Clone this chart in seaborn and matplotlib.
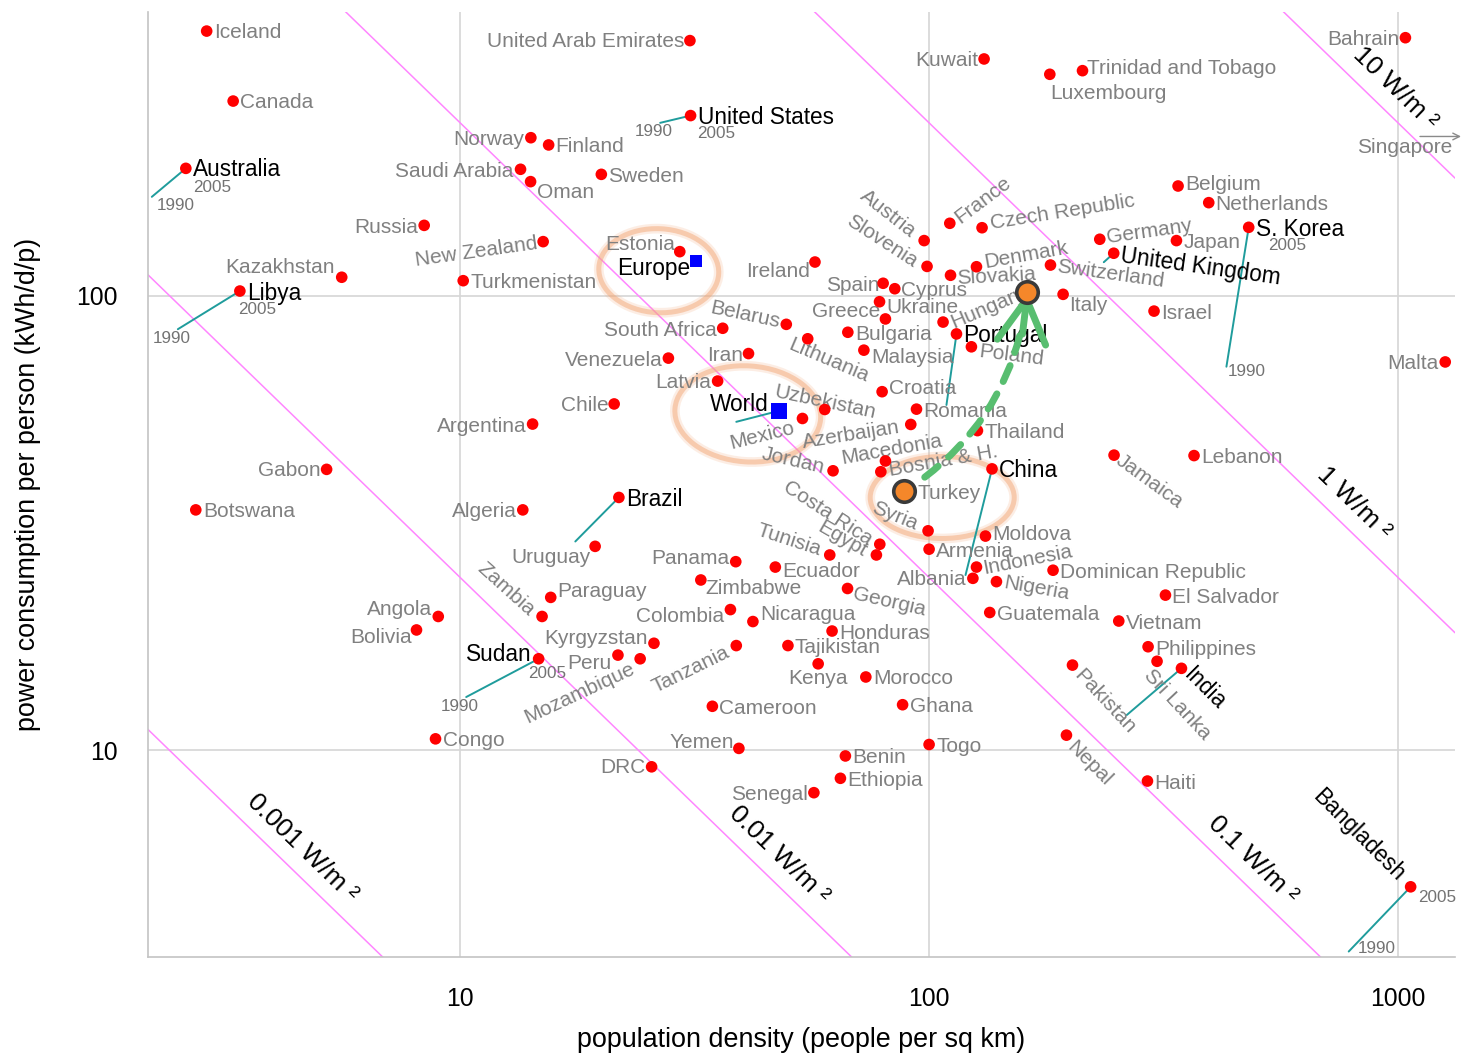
import numpy as np
import pandas as pd
import matplotlib
matplotlib.use("Agg")
import matplotlib.pyplot as plt
import matplotlib.transforms as mtransforms
from matplotlib.patches import Ellipse, FancyArrowPatch
from matplotlib.ticker import FixedLocator, FixedFormatter, LogLocator, NullFormatter
import seaborn as sns

# ---------------------------------------------------------------- data
countries = [
    "Iceland", "Canada", "Australia", "Russia", "Kazakhstan", "Libya", "Turkmenistan",
    "United Arab Emirates", "United States", "Norway", "Finland", "Saudi Arabia", "Oman",
    "Sweden", "New Zealand", "Estonia", "Ireland", "Austria", "Slovenia", "France",
    "Spain", "Cyprus", "Ukraine", "Greece", "Hungary", "Belarus", "South Africa",
    "Bulgaria", "Lithuania", "Portugal", "Malaysia", "Iran", "Venezuela", "Slovakia",
    "Denmark", "Poland", "Kuwait", "Luxembourg", "Trinidad and Tobago", "Bahrain",
    "Belgium", "Netherlands", "S. Korea", "Czech Republic", "Germany", "Japan",
    "United Kingdom", "Switzerland", "Italy", "Israel", "Malta", "Gabon", "Botswana",
    "Angola", "Bolivia", "Latvia", "Chile", "Argentina", "Mexico", "Uzbekistan",
    "Croatia", "Romania", "Azerbaijan", "Macedonia", "Bosnia & H.", "Jordan", "Turkey",
    "Algeria", "Brazil", "Uruguay", "Syria", "Costa Rica", "Egypt", "Tunisia",
    "Armenia", "Panama", "Ecuador", "Zimbabwe", "Albania", "Georgia", "Paraguay",
    "Zambia", "Colombia", "Nicaragua", "Honduras", "Kyrgyzstan", "Tanzania",
    "Tajikistan", "Sudan", "Peru", "Mozambique", "Kenya", "Morocco", "Thailand",
    "China", "Moldova", "Jamaica", "Lebanon", "Indonesia", "Nigeria",
    "Dominican Republic", "El Salvador", "Guatemala", "Vietnam", "Philippines",
    "Sri Lanka", "India", "Pakistan", "Cameroon", "Ghana", "Yemen", "Togo", "Benin",
    "Ethiopia", "DRC", "Senegal", "Congo", "Nepal", "Haiti", "Bangladesh",
]
density_2005 = [
    2.88, 3.28, 2.60, 8.38, 5.59, 3.39, 10.15,
    30.9, 31.0, 14.15, 15.44, 13.45, 14.13,
    20.0, 15.03, 29.4, 57.1, 97.6, 99.0, 110.7,
    79.8, 84.5, 78.4, 80.7, 107.1, 49.6, 36.3,
    67.1, 55.1, 114.4, 72.6, 41.2, 27.8, 111.1,
    126.2, 123.1, 131.0, 180.9, 212.4, 1037,
    339.6, 394.8, 480.4, 129.7, 231.2, 336.9,
    247.6, 181.5, 193.1, 301.8, 1261, 5.19, 2.73,
    8.98, 8.07, 35.4, 21.3, 14.27, 53.7, 59.9,
    79.4, 94.0, 91.4, 80.7, 78.9, 62.4, 88.5,
    13.6, 21.8, 19.4, 99.5, 78.5, 77.2, 61.4,
    100.0, 38.7, 47.0, 32.6, 124.0, 67.0, 15.6,
    14.95, 37.7, 42.1, 62.1, 25.9, 38.8,
    50.0, 14.7, 21.7, 24.2, 58.0, 73.3, 126.8,
    136.2, 131.9, 248.0, 367.3, 126.2, 139.2,
    183.8, 319.2, 134.7, 253.8, 293.1,
    306.3, 345.3, 202.2, 34.5, 87.8, 39.3, 100.0, 66.3,
    64.7, 25.6, 56.8, 8.86, 196.3, 292.2, 1064,
]
power_2005 = [
    382, 268, 190.6, 142.8, 109.8, 102.4, 107.9,
    364, 249, 222.6, 214.6, 189.7, 178.2,
    184.9, 131.5, 125, 118.6, 132.2, 116, 144.3,
    106.5, 103.6, 97.0, 88.9, 87.5, 86.5, 84.8,
    83.1, 80.4, 82.4, 75.9, 74.6, 72.9, 110.9,
    115.8, 77.2, 331.7, 306.9, 312.6, 369.4,
    174.3, 160.2, 141.4, 141.1, 133.1, 132.2,
    124.0, 116.8, 100.7, 92.5, 71.5, 41.5, 33.8,
    19.7, 18.4, 64.9, 57.8, 52.2, 53.7, 56.2,
    61.5, 56.3, 52.1, 43.3, 41.0, 41.2, 37.1,
    33.8, 36.0, 28.1, 30.4, 28.4, 26.9, 26.9,
    27.7, 26.0, 25.3, 23.7, 23.9, 22.7, 21.7,
    19.7, 20.4, 19.2, 18.3, 17.2, 17.0,
    17.0, 15.9, 16.2, 15.9, 15.5, 14.5, 50.5,
    41.6, 29.6, 44.6, 44.5, 25.3, 23.5,
    24.9, 21.95, 20.1, 19.25, 16.9,
    15.7, 15.15, 15.4, 12.5, 12.6, 10.1, 10.3, 9.72,
    8.68, 9.20, 8.07, 10.6, 10.8, 8.56, 5.01,
]

# 1990 -> 2005 trajectories
traj_countries = ["Australia", "Libya", "United States", "S. Korea", "Sudan", "Bangladesh",
                  "Brazil", "United Kingdom", "Portugal", "China", "India", "World"]
density_1990 = [2.20, 2.50, 26.7, 430.6, 10.3, 785, 17.6, 235.8, 108.9, 119.6, 264, 38.8]
power_1990 = [165, 84.4, 240, 69.8, 13.1, 3.61, 28.8, 118.5, 57.5, 24.3, 11.96, 52.8]

region_names = ["Europe", "World"]
region_density = [31.8, 47.8]
region_power = [119.4, 55.8]

highlight_density = [88.5, 162.1]
highlight_power = [37.1, 101.7]

singapore_power = 224

wm2_levels = [0.001, 0.01, 0.1, 1, 10]
wm2_text = ["0.001 W/m \u00b2", "0.01 W/m \u00b2", "0.1 W/m \u00b2", "1 W/m \u00b2", "10 W/m \u00b2"]
wm2_label_x = [4.27, 44.2, 453, 746, 914]

x_ticks = [10, 100, 1000]
x_ticklabels = ["10", "100", "1000"]
y_ticks = [10, 100]
y_ticklabels = ["10", "100"]

# ---------------------------------------------------------------- layout (pixel offsets)
LAYOUT = {
    "Iceland": (7, 1, "left", 0), "Canada": (7, 1, "left", 0), "Australia": (7, 1, "left", 0),
    "Russia": (-6, 2, "right", 0), "Kazakhstan": (-7, -10, "right", 0),
    "United Arab Emirates": (-6, 1, "right", 0), "Norway": (-7, 2, "right", 0),
    "Saudi Arabia": (-7, 2, "right", 0), "Oman": (6, 11, "left", 0),
    "New Zealand": (-6, 2, "right", 8), "Estonia": (-5, -7, "right", 0),
    "Ireland": (-5, 9, "right", 0), "Austria": (-11, -7, "right", -38),
    "Slovenia": (-12, -3, "right", -33), "France": (7, -4, "left", 37),
    "Czech Republic": (8, -4, "left", 9), "Denmark": (8, -4, "left", 10),
    "Slovakia": (6, 3, "left", 3), "Switzerland": (6, 2, "left", -8),
    "Italy": (6, 11, "left", 0), "Spain": (-4, 2, "right", 0), "Cyprus": (6, 2, "left", 0),
    "Ukraine": (7, 6, "left", 0), "Greece": (-5, -7, "right", 0),
    "Hungary": (8, 1, "left", 23), "Poland": (8, 5, "left", -7),
    "Malaysia": (7, 7, "left", 0), "Belarus": (-7, -2, "right", -12),
    "South Africa": (-6, 2, "right", 0), "Lithuania": (-18, 5, "left", -23),
    "Iran": (-5, 2, "right", 0), "Venezuela": (-6, 2, "right", 0),
    "Latvia": (-6, 1, "right", 0), "Croatia": (7, -3, "left", 0),
    "Chile": (-6, 2, "right", 0), "Argentina": (-6, 2, "right", 0),
    "Mexico": (-8, 9, "right", 14), "Uzbekistan": (-50, -18, "left", -12),
    "Azerbaijan": (-11, 3, "right", 9), "Macedonia": (-44, -2, "left", 10),
    "Bosnia & H.": (8, -1, "left", 10), "Jordan": (-9, -3, "right", -13),
    "Turkey": (13, 2, "left", 0), "Syria": (-11, -6, "right", -22),
    "Costa Rica": (-9, -3, "right", -33), "Egypt": (-11, -2, "right", -30),
    "Tunisia": (-9, -5, "right", -18), "Albania": (-6, 1, "right", 0),
    "Moldova": (7, -2, "left", 0), "Indonesia": (7, 2, "left", 11),
    "Nigeria": (7, 1, "left", -10), "Sri Lanka": (-10, 11, "left", -47),
    "India": (6, 3, "left", -45), "Pakistan": (5, 7, "left", -47),
    "Nepal": (4, 9, "left", -45), "Jamaica": (4, 3, "left", -36),
    "Belgium": (7, -2, "left", 0), "Germany": (7, -2, "left", 8),
    "United Kingdom": (7, 2, "left", -8), "Kuwait": (-6, 2, "right", 0),
    "Luxembourg": (0, 19, "left", 0), "Trinidad and Tobago": (5, -2, "left", 0),
    "Bahrain": (-6, 2, "right", 0), "Malta": (-7, 2, "right", 0),
    "Gabon": (-6, 1, "right", 0), "Angola": (-6, -7, "right", 0),
    "Bolivia": (-5, 8, "right", 0), "Algeria": (-6, 2, "right", 0),
    "Uruguay": (-5, 11, "right", 0), "Paraguay": (7, -6, "left", 0),
    "Zambia": (-10, -4, "right", -42), "Mozambique": (-6, 9, "right", 25),
    "Tanzania": (-8, 6, "right", 26), "Kyrgyzstan": (-6, -5, "right", 0),
    "Peru": (-6, 8, "right", 0), "Sudan": (-7, -4, "right", 0),
    "Panama": (-6, -3, "right", 0), "Ecuador": (7, 4, "left", 0),
    "Zimbabwe": (5, 9, "left", 0), "Georgia": (6, 5, "left", -13),
    "Colombia": (-6, 7, "right", 0), "Nicaragua": (7, -7, "left", 0),
    "Kenya": (0, 15, "center", 0), "Yemen": (-5, -6, "right", 0),
    "DRC": (-6, 1, "right", 0), "Senegal": (-6, 2, "right", 0),
    "Bangladesh": (-10, -9, "right", -45), "Philippines": (7, 3, "left", 0),
    "Europe": (-6, 8, "right", 0), "World": (-10, -6, "right", 0),
}
BLACK = {"Australia", "Libya", "United States", "Brazil", "Sudan", "China", "India",
         "S. Korea", "United Kingdom", "Portugal", "Bangladesh", "Europe", "World"}
YEAR_LAYOUT = {  # (offset of "2005" from 2005 point), (offset of "1990" from 1990 point)
    "Australia": ((7, 19), (5, 9)), "Libya": ((-2, 18), (-25, 9)),
    "United States": ((7, 18), (-25, 9)), "S. Korea": ((19, 18), (1, 5)),
    "Sudan": ((-11, 15), (-25, 9)), "Bangladesh": ((7, 11), (9, -3)),
}

# ---------------------------------------------------------------- style
sns.set_theme(style="white")
plt.rcParams["font.family"] = ["Liberation Sans", "DejaVu Sans"]

DPI = 100
PX = 72.0 / DPI
GRAY_TXT = "#808080"
TEAL = "#1f9c9c"
GREEN = "#58be70"
PEACH = "#f3a878"

fig = plt.figure(figsize=(14.61, 10.56), dpi=DPI)
ax = fig.add_axes([0.1011, 0.0940, 0.8948, 0.8943])
ax.set_xscale("log")
ax.set_yscale("log")
XLIM = (2.156, 1323)
YLIM = (3.516, 420)
ax.set_xlim(*XLIM)
ax.set_ylim(*YLIM)

for side in ["top", "right"]:
    ax.spines[side].set_visible(False)
for side in ["left", "bottom"]:
    ax.spines[side].set_color("#c4c4c4")
    ax.spines[side].set_linewidth(1.2)

ax.xaxis.set_major_locator(FixedLocator(x_ticks))
ax.xaxis.set_major_formatter(FixedFormatter(x_ticklabels))
ax.yaxis.set_major_locator(FixedLocator(y_ticks))
ax.yaxis.set_major_formatter(FixedFormatter(y_ticklabels))
ax.xaxis.set_minor_locator(LogLocator(base=10, subs=np.arange(2, 10)))
ax.yaxis.set_minor_locator(LogLocator(base=10, subs=np.arange(2, 10)))
ax.xaxis.set_minor_formatter(NullFormatter())
ax.yaxis.set_minor_formatter(NullFormatter())
ax.tick_params(which="both", direction="out", color="#bdbdbd", width=1.1)
ax.tick_params(which="major", length=9.2, labelsize=17.8, labelcolor="black")
ax.tick_params(axis="x", which="major", pad=12.5)
ax.tick_params(axis="y", which="major", pad=12.7)
ax.tick_params(axis="x", which="minor", length=6)
ax.tick_params(axis="y", which="minor", length=4.4)
ax.grid(True, which="major", color="#d6d6d6", lw=1.2)
ax.grid(False, which="minor")
ax.set_axisbelow(True)

ax.set_xlabel("population density (people per sq km)", fontsize=19.4, color="black", labelpad=11.5)
ax.set_ylabel("power consumption per person (kWh/d/p)", fontsize=19.4, color="black", labelpad=25)

# ---------------------------------------------------------------- W/m^2 lines
bb = ax.get_window_extent()
ppd_x = bb.width / np.log10(XLIM[1] / XLIM[0])
ppd_y = bb.height / np.log10(YLIM[1] / YLIM[0])
theta = np.arctan2(ppd_y, ppd_x)
xs = np.logspace(np.log10(XLIM[0]), np.log10(XLIM[1]), 300)
for lev, lab, xl in zip(wm2_levels, wm2_text, wm2_label_x):
    sns.lineplot(x=xs, y=lev * 24000 / xs, ax=ax, color="#ff86ff", lw=1.1,
                 zorder=1.5, estimator=None, sort=False, legend=False)
    off = 23
    ax.annotate(lab, (xl, lev * 24000 / xl),
                xytext=(off * np.sin(theta) * PX, off * np.cos(theta) * PX),
                textcoords="offset points", ha="center", va="center",
                rotation=-np.degrees(theta), rotation_mode="anchor",
                fontsize=19, color="black", zorder=4)

# ---------------------------------------------------------------- trajectories
dens_lookup = dict(zip(countries + region_names, density_2005 + region_density))
pow_lookup = dict(zip(countries + region_names, power_2005 + region_power))
rows = []
for c, d90, p90 in zip(traj_countries, density_1990, power_1990):
    rows.append({"country": c, "year": 1990, "density": d90, "power": p90})
    rows.append({"country": c, "year": 2005, "density": dens_lookup[c], "power": pow_lookup[c]})
traj_df = pd.DataFrame(rows)
sns.lineplot(data=traj_df, x="density", y="power", units="country", estimator=None,
             sort=False, color=TEAL, lw=1.4, ax=ax, zorder=3, legend=False)

for c, ((dx5, dy5), (dx9, dy9)) in YEAR_LAYOUT.items():
    i = traj_countries.index(c)
    ax.annotate("2005", (dens_lookup[c], pow_lookup[c]), xytext=(dx5 * PX, -dy5 * PX),
                textcoords="offset points", ha="left", va="center", fontsize=12.3,
                color="#737373", zorder=4)
    ax.annotate("1990", (density_1990[i], power_1990[i]), xytext=(dx9 * PX, -dy9 * PX),
                textcoords="offset points", ha="left", va="center", fontsize=12.3,
                color="#737373", zorder=4, annotation_clip=False)

# ---------------------------------------------------------------- ellipses (pixel sized, anchored on points)
def ring(xd, yd, dx, dy, w, h, angle=0):
    cx, cy = ax.transData.transform((xd, yd))
    for lw, a in [(7.0, 0.2), (3.6, 0.5)]:
        e = Ellipse((cx + dx, cy - dy), w, h, angle=angle, fill=False, ec=PEACH,
                    lw=lw, alpha=a, transform=mtransforms.IdentityTransform(), zorder=2)
        ax.add_artist(e)

ring(region_density[0], region_power[0], -37, 10, 120, 84, -3)
ring(region_density[1], region_power[1], -31, 3, 146, 96, -4)
ring(highlight_density[0], highlight_power[0], 38, 6, 144, 82, 0)

# ---------------------------------------------------------------- points
df = pd.DataFrame({"country": countries, "density": density_2005, "power": power_2005})
sns.scatterplot(data=df, x="density", y="power", s=70, color="#ff0000", edgecolor="none",
                linewidth=0, ax=ax, zorder=5, legend=False)
sns.scatterplot(x=region_density[:1], y=region_power[:1], marker="s", s=72, color="#0000ff",
                edgecolor="none", linewidth=0, ax=ax, zorder=5, legend=False)
sns.scatterplot(x=region_density[1:], y=region_power[1:], marker="s", s=125, color="#0000ff",
                edgecolor="none", linewidth=0, ax=ax, zorder=5, legend=False)

# labels
for name, xv, yv in list(zip(countries, density_2005, power_2005)) + list(zip(region_names, region_density, region_power)):
    dx, dy, ha, rot = LAYOUT.get(name, (7, 2, "left", 0))
    black = name in BLACK
    ax.annotate(name, (xv, yv), xytext=(dx * PX, -dy * PX), textcoords="offset points",
                ha=ha, va="center", rotation=rot, rotation_mode="anchor",
                fontsize=16.3 if black else 15, color="black" if black else GRAY_TXT,
                zorder=4)

# Singapore (off the chart)
ax.annotate("", xy=(1.0046, singapore_power), xytext=(0.9732, singapore_power),
            xycoords=("axes fraction", "data"), textcoords=("axes fraction", "data"),
            arrowprops=dict(arrowstyle="->", color="#8a8a8a", lw=1.0, shrinkA=0, shrinkB=0),
            annotation_clip=False)
ax.annotate("Singapore", xy=(0.9977, singapore_power), xycoords=("axes fraction", "data"),
            xytext=(0, -11 * PX), textcoords="offset points", ha="right", va="center",
            fontsize=15, color=GRAY_TXT, annotation_clip=False)

# ---------------------------------------------------------------- green arrow between highlights
pA = (highlight_density[0], highlight_power[0])
pB = (highlight_density[1], highlight_power[1])
shaft = FancyArrowPatch(pA, pB, connectionstyle="arc3,rad=0.24", arrowstyle="-",
                        color=GREEN, lw=5, linestyle=(0, (2.5, 2.0)),
                        shrinkA=18, shrinkB=31, transform=ax.transData, zorder=6)
ax.add_patch(shaft)
ax.annotate("", xy=pB, xytext=(-3.6, -30), textcoords="offset points",
            arrowprops=dict(arrowstyle="->,head_length=3.1,head_width=1.75", lw=5,
                            color=GREEN, shrinkA=0, shrinkB=0, mutation_scale=10),
            zorder=6)
sns.scatterplot(x=highlight_density, y=highlight_power, s=240, color="#f5872a",
                edgecolor="#3a3a3a", linewidth=2.6, ax=ax, zorder=7, legend=False)

fig.savefig("out.png", dpi=DPI)
